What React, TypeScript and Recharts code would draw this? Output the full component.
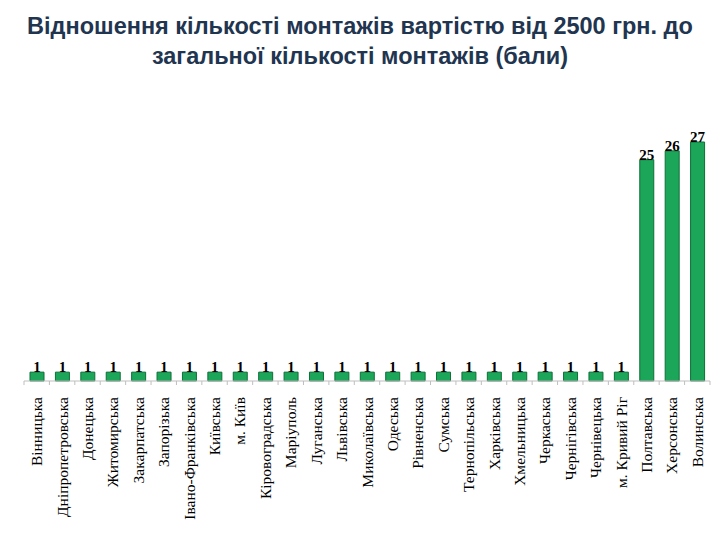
import { BarChart, Bar, XAxis, YAxis, LabelList } from "recharts";

const regions = [
  "Вінницька",
  "Дніпропетровська",
  "Донецька",
  "Житомирська",
  "Закарпатська",
  "Запорізька",
  "Івано-Франківська",
  "Київська",
  "м. Київ",
  "Кіровоградська",
  "Маріуполь",
  "Луганська",
  "Львівська",
  "Миколаївська",
  "Одеська",
  "Рівненська",
  "Сумська",
  "Тернопільська",
  "Харківська",
  "Хмельницька",
  "Черкаська",
  "Чернігівська",
  "Чернівецька",
  "м. Кривий Ріг",
  "Полтавська",
  "Херсонська",
  "Волинська",
];

const scores = [
  1, 1, 1, 1, 1, 1, 1, 1, 1, 1, 1, 1, 1, 1, 1, 1, 1, 1, 1, 1, 1, 1, 1, 1, 25,
  26, 27,
];

const data = regions.map((name, i) => ({ name, value: scores[i] }));

const TITLE_LINES = [
  "Відношення кількості монтажів вартістю від 2500 грн. до",
  "загальної кількості монтажів (бали)",
];

const W = 720;
const H = 540;
const margin = { top: 142, right: 10, bottom: 0, left: 24 };
const band = (W - margin.left - margin.right) / regions.length;

function RegionTick(props: any) {
  const { x, y, payload, index } = props;
  const left = x - band / 2;
  return (
    <g>
      <line x1={left} y1={y - 8} x2={left} y2={y - 4} stroke="#bfbfbf" />
      {index === regions.length - 1 && (
        <line x1={left + band} y1={y - 8} x2={left + band} y2={y - 4} stroke="#bfbfbf" />
      )}
      <text
        x={0}
        y={0}
        transform={`translate(${x + 5.5},${y + 8}) rotate(-90)`}
        textAnchor="end"
        fontFamily="'Liberation Serif', 'Times New Roman', serif"
        fontSize={15.5}
        fill="#000"
      >
        {payload.value}
      </text>
    </g>
  );
}

export default function App() {
  return (
    <div style={{ position: "absolute", left: 0, top: 0, width: W, height: H, background: "#fff" }}>
      <div
        style={{
          position: "absolute",
          left: 0,
          right: 0,
          top: 11,
          textAlign: "center",
          fontFamily: "'Liberation Sans', Arial, sans-serif",
          fontWeight: "bold",
          fontSize: 23.5,
          lineHeight: "30px",
          color: "#1f3550",
          zIndex: 1,
        }}
      >
        {TITLE_LINES.map((t) => (
          <div key={t}>{t}</div>
        ))}
      </div>
      <BarChart width={W} height={H} data={data} margin={margin} barSize={14}>
        <XAxis
          dataKey="name"
          interval={0}
          height={H - 381 - margin.bottom}
          tickLine={false}
          axisLine={{ stroke: "#bfbfbf" }}
          tick={<RegionTick />}
        />
        <YAxis hide domain={[0, 27]} />
        <Bar dataKey="value" fill="#1ba65a" stroke="#0f6f37" strokeWidth={1} isAnimationActive={false}>
          <LabelList
            dataKey="value"
            position="top"
            offset={0}
            fontFamily="'Liberation Serif', 'Times New Roman', serif"
            fontWeight="bold"
            fontSize={15}
            fill="#000"
          />
        </Bar>
      </BarChart>
    </div>
  );
}
